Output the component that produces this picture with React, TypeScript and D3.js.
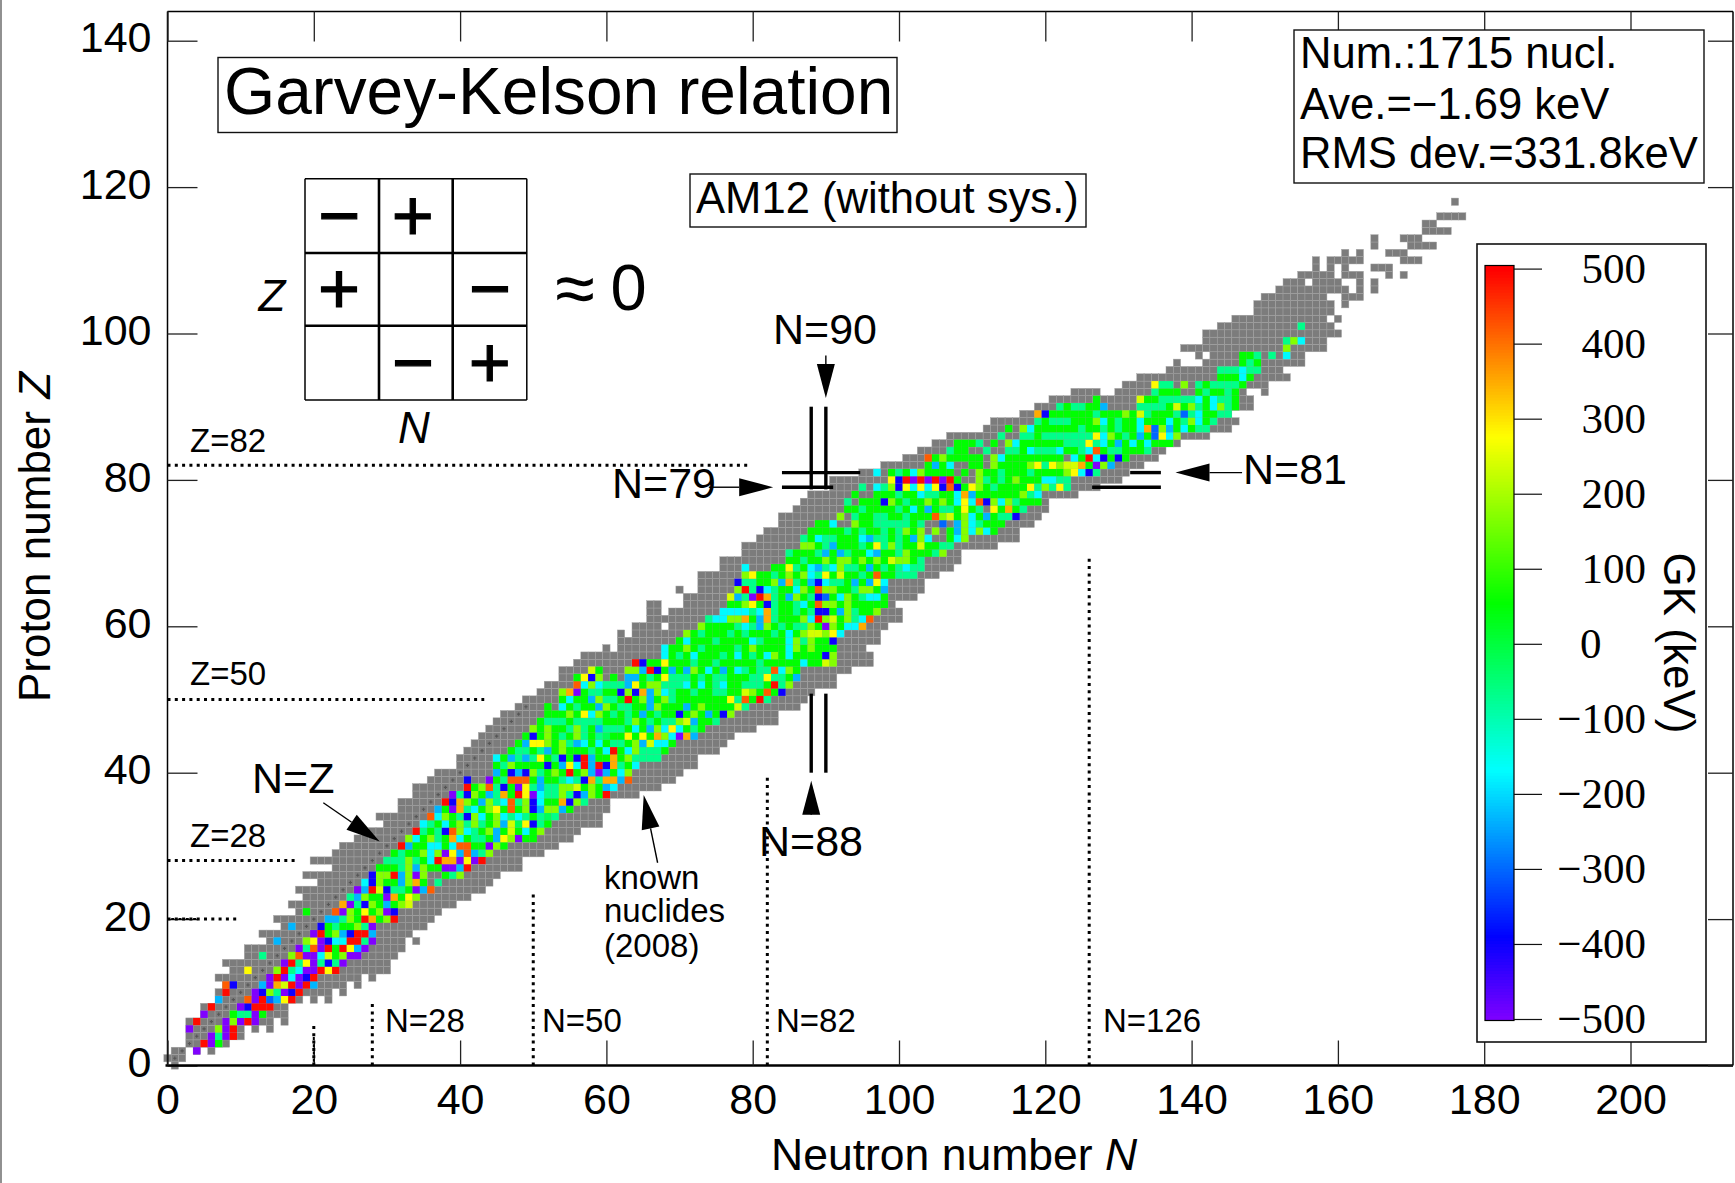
import React, { useRef, useEffect } from "react";
import * as d3 from "d3";

// known nuclides (2008): [Z, first N, last N]
const knownRanges: number[][] = [
  [0, 1, 1], [1, 0, 2], [2, 1, 2], [2, 4, 4], [2, 6, 6], [3, 3, 8], [4, 3, 10], [5, 3, 10], [5, 12, 12], [5, 14, 14],
  [6, 3, 14], [6, 16, 16], [7, 5, 16], [8, 5, 16], [9, 7, 18], [9, 20, 20], [9, 22, 22], [10, 7, 22], [10, 24, 24],
  [11, 8, 24], [11, 26, 26], [12, 7, 26], [12, 28, 28], [13, 9, 30], [14, 8, 30], [15, 11, 31], [16, 11, 32],
  [17, 14, 32], [17, 34, 34], [18, 13, 33], [19, 16, 35], [20, 15, 36], [21, 18, 37], [22, 17, 39], [23, 19, 41],
  [24, 18, 43], [25, 21, 44], [26, 19, 45], [27, 23, 48], [28, 20, 48], [29, 23, 51], [30, 24, 53], [31, 26, 55],
  [32, 28, 56], [33, 30, 59], [34, 29, 59], [35, 32, 60], [36, 32, 60], [37, 34, 64], [38, 34, 67], [39, 36, 69],
  [40, 37, 70], [41, 40, 72], [42, 40, 72], [43, 41, 75], [44, 42, 76], [45, 43, 77], [46, 44, 80], [47, 45, 83],
  [48, 46, 83], [49, 48, 86], [50, 49, 87], [51, 51, 88], [52, 52, 91], [53, 54, 91], [54, 54, 93], [55, 56, 96],
  [56, 57, 96], [57, 60, 60], [57, 62, 95], [58, 62, 97], [59, 62, 62], [59, 64, 97], [60, 64, 67], [60, 69, 98],
  [61, 66, 100], [62, 66, 67], [62, 69, 100], [63, 66, 67], [63, 71, 99], [64, 71, 102], [65, 70, 70], [65, 73, 103],
  [66, 73, 103], [67, 73, 105], [68, 76, 107], [69, 76, 108], [70, 79, 108], [71, 79, 113], [72, 81, 116],
  [73, 82, 116], [74, 84, 118], [75, 84, 119], [76, 86, 120], [77, 87, 120], [78, 88, 124], [79, 91, 127],
  [80, 91, 130], [81, 95, 131], [82, 98, 133], [83, 101, 135], [84, 103, 136], [85, 105, 138], [86, 107, 142],
  [87, 112, 145], [88, 113, 146], [89, 117, 145], [90, 119, 148], [91, 121, 148], [92, 124, 127], [92, 130, 147],
  [92, 150, 150], [93, 131, 150], [94, 133, 153], [95, 137, 152], [96, 138, 138], [96, 142, 155], [97, 141, 141],
  [97, 143, 155], [98, 139, 158], [99, 142, 158], [100, 142, 160], [101, 144, 159], [102, 146, 158], [102, 160, 160],
  [103, 149, 159], [104, 149, 159], [104, 161, 161], [105, 150, 158], [105, 161, 163], [106, 152, 161], [106, 163, 163],
  [106, 165, 165], [107, 153, 155], [107, 157, 160], [107, 163, 163], [107, 165, 165], [108, 155, 159], [108, 161, 163],
  [108, 167, 167], [108, 169, 169], [109, 157, 157], [109, 159, 159], [109, 161, 161], [109, 165, 167], [110, 157, 157],
  [110, 159, 163], [110, 169, 171], [111, 161, 161], [111, 163, 163], [111, 167, 169], [112, 165, 165], [112, 170, 173],
  [113, 165, 165], [113, 169, 171], [114, 172, 175], [115, 172, 173], [116, 174, 177], [118, 176, 176],
];

// GK value per letter, in keV, read against the colour bar
const gkLevels: Record<string, number> = {
  p: -500, b: -400, a: -300, s: -230, c: -170, t: -65, u: -20, g: 55, h: 110, l: 170, y: 240, Y: 280, o: 350, O: 420, r: 490,
};

// [Z, first N, one letter per N]; "." = no GK value there
const gkRows: [number, number, string][] = [
  [2, 4, "p"], [3, 5, "rpg"], [4, 6, "ptpr"], [5, 3, "p...lpr"], [6, 4, "r...plprp"], [7, 5, "p...gttpg"],
  [8, 6, "r...pbrrr"], [9, 7, "s...OprasYr"], [10, 8, "r...pbltpbr"], [11, 8, "Ob...spoyrprs"], [12, 14, "prpcpbr"],
  [13, 11, "Y...lrtcpprYr"], [14, 16, "prtYptbtp"], [15, 13, "t...lOppcyglpp"], [16, 18, "ptOprgrYsp"],
  [17, 15, "s...lYpbccrrtp"], [18, 20, "prglsbrrs"], [19, 17, "s...bgtggltp"], [20, 22, "sstlgroglr"],
  [21, 19, "g...OplgYglpb"], [22, 24, "optblgsgly"], [23, 25, "tslggpogYl"], [24, 26, "psrybttgpsO"],
  [25, 27, "cblggslog.t"], [26, 28, "bllrslpl..gtl"], [27, 29, "gggtlslggppsr"], [28, 30, "tttltgcroopYpr"],
  [29, 31, "gtgglclpYsOstl"], [30, 32, "rsggccgcOOggplg"], [31, 33, "lcgltgocgttgsYlpgg"], [32, 34, "rtgtbOlctglsgygcgl"],
  [33, 35, "ctgcgltltglsyuYbtg"], [34, 36, "Oclgtblcglctctgtut"], [35, 37, "sgpotcglYgOglbsllsg"],
  [36, 38, "rbolgsltcOtlbcggoblt"], [37, 39, "ptblgstogrYpcttltbslgr"], [38, 41, "rglOtbgpYtsttllyglgsc"],
  [39, 41, "b..pgtOOOgsggtctbotoosO"], [40, 45, "sgbsbltglgrglspsgcl"], [41, 45, "gtlggggbgsYcrsrbotgc"],
  [42, 45, "cgststYgtbgbrsggogltttt"], [43, 47, "gttgtsglgggtgcrgcltttg"], [44, 48, "gsYYlgltscgcgttglsyccg"],
  [45, 49, "gbglgtgltgtuggYgYgolcpos"], [46, 50, "lglggtltgstttgcgslcYcgtg"], [47, 51, "gtttgttttgggtlgtgttlysggt"],
  [48, 52, "ggglgYclgtgtgsgtggbglgsgbl"], [49, 52, "g.cgtggslgttggslgggsglggggyt"],
  [50, 54, "gcggslttgrglsgltgggggggYtOgrt"], [51, 54, "lopgttggblboslctggtggttggylgOgb"],
  [52, 56, "OclctttsYglltttcgcgtcggtttgrtl"], [53, 56, "gYbl.g.ssgtgYtttgtgttgggttYttgs"],
  [54, 58, "yg...llsrbgsgslgcgsgctgttOclg"], [55, 64, "rbggYgggtggtgggggtgggggcggyl"],
  [56, 68, "cgtgcgggtgcgtgclgcggggbl"], [57, 68, "cgglgtggggtglggggclglggg"], [58, 70, "gcgggtggggctgggcltlggb"],
  [59, 71, "lgtgggtgtgggtgcglyylYc"], [60, 73, "lggggtctslgtgttlgplgcco"], [61, 74, "tccllogsotggglcrlygltcO"],
  [62, 76, "cccctcotggtgtbbgsltggl"], [63, 77, "gglYgbtggtcgOllglggggg"], [64, 77, "ystprotgslgtbagclgtccg"],
  [65, 78, "lrtbctggclgOllggtllgs"], [66, 78, "bttgglsotgsbcttgsgsYc"], [67, 79, "lYggtglglctYgyggtgOggttt"],
  [68, 79, "c...ggYtgcstclttgsgtgtctt"], [69, 85, "ggtgglgllglglgyllgt"], [70, 85, "tgggtsgstggcsggtlgggtl"],
  [71, 87, "llgtsgggtgYtltggyggtt"], [72, 87, "tgcttgggcsttgtgslc..gcl"], [73, 88, "gggggtgtggtgtlgl.l.gslclcg"],
  [74, 89, "ggc..lggtttttgt..a.slctggg"], [75, 92, "l.tggttggtgggOlyglcgsgttb"],
  [76, 93, "ggtggggtgcgsgttgYgt.Ygogt"], [77, 93, "t.gggblgtgglglgcYcOblcltggg"],
  [78, 94, "g..gggtggcttggcosggggggltc"], [79, 95, "t.ctlbYcYcYbObgYlgtggggYtltYt"],
  [80, 99, "Ybrprprprg..ltgtglgggcctt"], [81, 97, "c.gtgclgggg.g.lggtgggtgggglYcbt"],
  [82, 104, "gsgc..gg.lgggglYtYlyyogpls"], [83, 104, "Oglggggg.lcgggggggg.cgrcbgbg"],
  [84, 107, "tgg..t..ttgctttcggtcOgttgggt"], [85, 108, "gggt.g.lcggggggtttYtcgsgcgcggg"],
  [86, 114, "t..ttgtttttttYclgtgsgaYcl"], [87, 115, "g.lcggggggtggtgtggcoalsgcgtt"],
  [88, 119, "tgtttggglcgtggcgggcgtlcgt"], [89, 119, "obggggggtgggl gytgggtatcggtt".replace(" ", "")],
  [90, 122, "tgttggs....ttttgygltgcltg"], [91, 127, "g.....yggtttttcgcttg"], [92, 135, "tggg..gtggtg"],
  [93, 135, "Ytt.l.tgttttg"], [94, 144, "gggcg"], [95, 144, "tttctt"], [96, 147, "gtg"], [97, 147, "ggt.t.c"],
  [98, 153, "l"], [99, 153, "tlc"], [101, 155, "t"],
];

const nTicks = [0, 20, 40, 60, 80, 100, 120, 140, 160, 180, 200];
const zTicks = [0, 20, 40, 60, 80, 100, 120, 140];
const gkTicks = [500, 400, 300, 200, 100, 0, -100, -200, -300, -400, -500];

// dotted magic number guides: [Z, N end] and [N, Z end]
const magicZ = [[82, 79.5], [50, 43.3], [28, 17.7], [20, 9.4]];
const magicN = [[20, 5.7], [28, 8.5], [50, 23.5], [82, 39.7], [126, 69.6]];

const statLines = ["Num.:1715 nucl.", "Ave.=−1.69 keV", "RMS dev.=331.8keV"];

const SANS = "'Liberation Sans', Arial, sans-serif";
const SERIF = "'Liberation Serif', 'Times New Roman', serif";

const App = () => {
  const ref = useRef<SVGSVGElement>(null);

  useEffect(() => {
    const svg = d3.select(ref.current);
    svg.selectAll("*").remove();

    const x = d3.scaleLinear().domain([0, 200]).range([167.5, 1630.5]);
    const y = d3.scaleLinear().domain([0, 140]).range([1065.5, 40.7]);
    const cw = x(1) - x(0);
    const ch = y(0) - y(1);
    const hue = d3.scaleLinear().domain([500, -500]).range([0, 270]);
    const gkColor = (v: number) => d3.hsl(hue(v), 1, 0.5).formatRgb();

    const txt = (s: string, px: number, py: number, size: number, anchor = "start", family = SANS) =>
      svg.append("text").attr("x", px).attr("y", py).attr("font-size", size)
        .attr("text-anchor", anchor).attr("font-family", family).attr("fill", "#000").text(s);

    // page edge line
    svg.append("line").attr("x1", 1).attr("x2", 1).attr("y1", 0).attr("y2", 1183)
      .attr("stroke", "#555").attr("stroke-width", 1.3);

    // known nuclides
    const known = knownRanges.flatMap(([z, a, b]) => d3.range(a, b + 1).map((n) => ({ n, z })));
    svg.append("g").selectAll("rect").data(known).join("rect")
      .attr("x", (d) => x(d.n) - cw / 2).attr("y", (d) => y(d.z) - ch / 2)
      .attr("width", cw).attr("height", ch)
      .attr("fill", "#7c7c7c").attr("stroke", "#a4a4a4").attr("stroke-width", 0.45);

    // GK values
    const cells = gkRows.flatMap(([z, n0, codes]) =>
      codes.split("").map((c, i) => ({ n: n0 + i, z, c })).filter((d) => d.c !== "."));
    svg.append("g").selectAll("rect").data(cells).join("rect")
      .attr("x", (d) => x(d.n) - cw / 2).attr("y", (d) => y(d.z) - ch / 2)
      .attr("width", cw).attr("height", ch)
      .attr("fill", (d) => gkColor(gkLevels[d.c]));

    // N=Z crosses
    const cross = d3.symbol().type(d3.symbolCross).size(6);
    svg.append("g").selectAll("path").data(d3.range(1, 50)).join("path")
      .attr("transform", (d) => `translate(${x(d)},${y(d)})`)
      .attr("d", cross).attr("fill", "#555");

    // axes
    const styleAxis = (g: any, sw: number) => {
      g.select(".domain").attr("stroke", "#000").attr("stroke-width", sw);
      g.selectAll(".tick line").attr("stroke", "#222").attr("stroke-width", 1.3);
      g.selectAll("text").attr("font-family", SANS).attr("font-size", 43).attr("fill", "#000");
    };
    const leftG = svg.append("g").attr("transform", `translate(${x(0)},0)`)
      .call(d3.axisLeft(y).tickValues(zTicks).tickSize(-30).tickSizeOuter(0).tickPadding(16));
    styleAxis(leftG, 1.5);
    leftG.select(".domain").attr("d", `M0,11.5V${y(0)}`);
    leftG.selectAll("text").attr("dy", "0.26em");
    const botG = svg.append("g").attr("transform", `translate(0,${y(0)})`)
      .call(d3.axisBottom(x).tickValues(nTicks).tickSize(-25).tickSizeOuter(0).tickPadding(18));
    styleAxis(botG, 2.4);
    botG.select(".domain").attr("d", `M${x(0) - 2},0H1733`);
    const topG = svg.append("g").attr("transform", "translate(0,11.5)")
      .call(d3.axisTop(x).tickValues(nTicks).tickSize(-30).tickSizeOuter(0).tickFormat(() => ""));
    styleAxis(topG, 1.5);
    topG.select(".domain").attr("d", `M${x(0)},0H1733`);
    const rightG = svg.append("g").attr("transform", "translate(1733,0)")
      .call(d3.axisRight(y).tickValues(zTicks).tickSize(-25).tickSizeOuter(0).tickFormat(() => ""));
    styleAxis(rightG, 1.5);
    rightG.select(".domain").attr("d", `M0,11.5V${y(0)}`);

    txt("Neutron number ", 771, 1170, 44.5).append("tspan").attr("font-style", "italic").text("N");
    txt("Proton number ", 0, 0, 44).attr("text-anchor", "middle")
      .attr("transform", `translate(50,537) rotate(-90)`)
      .append("tspan").attr("font-style", "italic").text("Z");

    // dotted guides
    const dotted = svg.append("g").attr("stroke", "#000").attr("stroke-width", 3).attr("stroke-dasharray", "3 4.3");
    magicZ.forEach(([z, end]) => dotted.append("line").attr("x1", x(0)).attr("x2", x(end)).attr("y1", y(z)).attr("y2", y(z)));
    magicN.forEach(([n, end]) => dotted.append("line").attr("x1", x(n)).attr("x2", x(n)).attr("y1", y(0)).attr("y2", y(end)));
    // the N=20 and Z=20 guides are drawn twice close to the axis
    dotted.append("line").attr("x1", x(0)).attr("x2", x(4.4)).attr("y1", y(20)).attr("y2", y(20)).attr("stroke-dashoffset", 3.6).attr("stroke-width", 2);
    dotted.append("line").attr("x1", x(20)).attr("x2", x(20)).attr("y1", y(0)).attr("y2", y(3.9)).attr("stroke-dashoffset", 3.6).attr("stroke-width", 2);
    txt("Z=82", 190, 452, 33);
    txt("Z=50", 190, 685, 33);
    txt("Z=28", 190, 847, 33);
    txt("N=28", 385, 1032, 33);
    txt("N=50", 542, 1032, 33);
    txt("N=82", 776, 1032, 33);
    txt("N=126", 1103, 1032, 33);

    // doubly drawn shell-gap bars
    const bar = (x1: number, y1: number, x2: number, y2: number) =>
      svg.append("line").attr("x1", x(x1)).attr("y1", y(y1)).attr("x2", x(x2)).attr("y2", y(y2))
        .attr("stroke", "#000").attr("stroke-width", 3.4);
    bar(88, 40, 88, 50.8); bar(90, 40, 90, 50.8);
    bar(88, 78.7, 88, 90); bar(90, 78.7, 90, 90);
    bar(84, 81, 94.7, 81); bar(84, 79, 91, 79);
    bar(131.6, 81, 135.8, 81); bar(126.4, 79, 135.8, 79);

    // arrows, given in N,Z
    const arrow = (n1: number, z1: number, n2: number, z2: number, len = 34, w = 18) => {
      const [ax, ay, bx, by] = [x(n1), y(z1), x(n2), y(z2)];
      const a = Math.atan2(by - ay, bx - ax);
      const [ux, uy] = [Math.cos(a), Math.sin(a)];
      const [bsx, bsy] = [bx - ux * len, by - uy * len];
      svg.append("line").attr("x1", ax).attr("y1", ay).attr("x2", bsx).attr("y2", bsy)
        .attr("stroke", "#000").attr("stroke-width", 1.4);
      svg.append("path").attr("fill", "#000").attr("d",
        d3.line()([[bx, by], [bsx - uy * w / 2, bsy + ux * w / 2], [bsx + uy * w / 2, bsy - ux * w / 2]]) + "Z");
    };
    arrow(90, 97, 90, 91.2);
    arrow(88, 34.6, 88, 38.9);
    arrow(74, 79, 82.8, 79);
    arrow(146.9, 81, 137.8, 81);
    arrow(21.3, 35.9, 29, 30.6);
    arrow(67, 27.7, 65.1, 36.95);

    txt("N=90", 773, 344, 43);
    txt("N=88", 759, 856, 43);
    txt("N=79", 612, 498, 43);
    txt("N=81", 1243, 484, 43);
    txt("N=Z", 252, 793, 43);
    txt("known", 604, 889, 33);
    txt("nuclides", 604, 922, 33);
    txt("(2008)", 604, 957, 33);

    // boxes
    const box = (bx: number, by: number, w: number, h: number, sw = 1.4) =>
      svg.append("rect").attr("x", bx).attr("y", by).attr("width", w).attr("height", h)
        .attr("fill", "#fff").attr("stroke", "#111").attr("stroke-width", sw);
    box(218, 57.5, 679, 75);
    txt("Garvey-Kelson relation", 224, 114, 65.8);
    box(690, 174, 396, 53);
    txt("AM12 (without sys.)", 696, 213, 43.6);
    box(1294, 30, 410, 153);
    statLines.forEach((s, i) => txt(s, 1300, [68, 119, 168][i], 43.6));

    // relation grid
    const gx = [305, 379, 452.7, 526.8];
    const gy = [178.7, 253, 325.7, 400];
    const grid = svg.append("g").attr("stroke", "#000");
    gx.forEach((v, i) => grid.append("line").attr("x1", v).attr("x2", v).attr("y1", gy[0]).attr("y2", gy[3])
      .attr("stroke-width", i === 0 || i === 3 ? 1.5 : 2.6));
    gy.forEach((v, i) => grid.append("line").attr("y1", v).attr("y2", v).attr("x1", gx[0]).attr("x2", gx[3])
      .attr("stroke-width", i === 0 || i === 3 ? 1.5 : 2.6));
    const signs = [["−", 0, 0], ["+", 1, 0], ["+", 0, 1], ["−", 2, 1], ["−", 1, 2], ["+", 2, 2]] as [string, number, number][];
    signs.forEach(([s, c, r]) => {
      txt(s, (gx[c] + gx[c + 1]) / 2 - 3 + (c === 2 ? 3 : 0), (gy[r] + gy[r + 1]) / 2 + 24, 72, "middle")
        .attr("stroke", "#000").attr("stroke-width", 1.2);
    });
    txt("Z", 272, 311, 44, "middle").attr("font-style", "italic");
    txt("N", 414, 443, 44, "middle").attr("font-style", "italic");
    txt("≈", 575, 313, 72, "middle");
    txt("0", 628.5, 310, 65, "middle");

    // colour bar
    box(1477, 244, 229, 798, 1.6);
    const barScale = d3.scaleLinear().domain([500, -500]).range([268.6, 1019]);
    const steps = d3.range(500, -500, -4);
    svg.append("rect").attr("x", 1485).attr("y", 265.5).attr("width", 29).attr("height", 4).attr("fill", gkColor(500));
    svg.append("rect").attr("x", 1485).attr("y", 1018).attr("width", 29).attr("height", 3).attr("fill", gkColor(-500));
    svg.append("g").selectAll("rect").data(steps).join("rect")
      .attr("x", 1485).attr("width", 29)
      .attr("y", (d) => barScale(d)).attr("height", barScale(0) - barScale(4) + 0.5)
      .attr("fill", (d) => gkColor(d));
    svg.append("rect").attr("x", 1485).attr("y", 265.5).attr("width", 29).attr("height", 755)
      .attr("fill", "none").attr("stroke", "#000").attr("stroke-width", 1.2);
    const barAxis = svg.append("g").attr("transform", "translate(1514,0)")
      .call(d3.axisRight(barScale).tickValues(gkTicks).tickSize(28).tickSizeOuter(0).tickPadding(0)
        .tickFormat(() => ""));
    barAxis.select(".domain").remove();
    barAxis.selectAll(".tick line").attr("stroke", "#111").attr("stroke-width", 1.2);
    gkTicks.forEach((v) => {
      txt(v < 0 ? `−${-v}` : `${v}`, v === 0 ? 1580 : 1646, barScale(v) + 14, 43, v === 0 ? "start" : "end", SERIF);
    });
    txt("GK (keV)", 0, 0, 44, "middle").attr("transform", "translate(1664,643) rotate(90)");
  }, []);

  return <svg ref={ref} width={1735} height={1183} style={{ position: "absolute", left: 0, top: 0, background: "#fff" }} />;
};

export default App;
